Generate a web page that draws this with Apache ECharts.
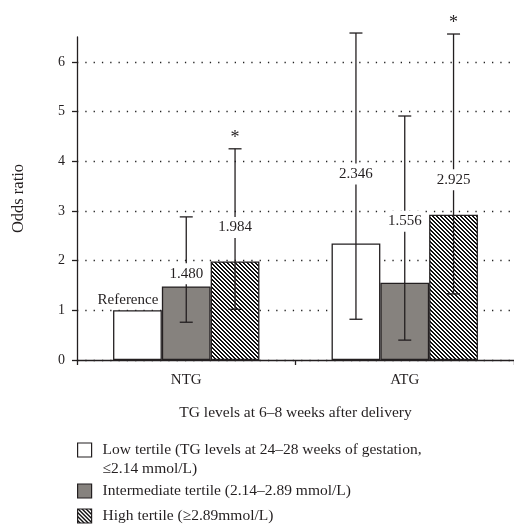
<!DOCTYPE html>
<html><head><meta charset="utf-8">
<script src="https://cdn.jsdelivr.net/npm/echarts@6/dist/echarts.min.js"></script>
<style>html,body{margin:0;padding:0;background:#fff}#c{width:514px;height:525px}</style>
</head><body><div id="c"></div>
<script>
// ---- data ----
const categories = ['NTG', 'ATG'];
const seriesNames = [
  'Low tertile (TG levels at 24–28 weeks of gestation, ≤2.14 mmol/L)',
  'Intermediate tertile (2.14–2.89 mmol/L)',
  'High tertile (≥2.89mmol/L)'
];
const lowValues = [1.000, 2.346];
const midValues = [1.480, 1.556];
const highValues = [1.984, 2.925];
const lowCILower = [null, 0.82];
const lowCIUpper = [null, 6.58];
const midCILower = [0.76, 0.40];
const midCIUpper = [2.88, 4.91];
const highCILower = [1.02, 1.33];
const highCIUpper = [4.25, 6.56];
const lowLabels = ['Reference', '2.346'];
const midLabels = ['1.480', '1.556'];
const highLabels = ['1.984', '2.925'];
const lowSignificant = [false, false];
const midSignificant = [false, false];
const highSignificant = [true, true];
const yTickValues = [0, 1, 2, 3, 4, 5, 6];
const xAxisTitle = 'TG levels at 6–8 weeks after delivery';
const yAxisTitle = 'Odds ratio';

// ---- style / layout ----
const FONT = '"Liberation Serif", "Times New Roman", serif';
const TXT = '#231f20';
const GRAY = '#86827e';
const CAT_GAP = 0.33;
const labelLift = [[10, 69.5], [12.7, 61.5], [34, 35]]; // px above bar top
const refShiftX = -9.5;

const hatchCanvas = document.createElement('canvas');
hatchCanvas.width = 4; hatchCanvas.height = 4;
(function () {
  const ctx = hatchCanvas.getContext('2d');
  ctx.fillStyle = '#fff'; ctx.fillRect(0, 0, 4, 4);
  ctx.fillStyle = '#111';
  for (let i = 0; i < 4; i++) { ctx.fillRect(i, i, 1, 1); ctx.fillRect((i + 1) % 4, i, 1, 1); }
})();
const hatch = { image: hatchCanvas, repeat: 'repeat' };

const values = [lowValues, midValues, highValues];
const ciLower = [lowCILower, midCILower, highCILower];
const ciUpper = [lowCIUpper, midCIUpper, highCIUpper];
const labels = [lowLabels, midLabels, highLabels];
const signif = [lowSignificant, midSignificant, highSignificant];
const fills = ['#ffffff', GRAY, hatch];

const errData = [];
for (let ci = 0; ci < categories.length; ci++) {
  for (let si = 0; si < 3; si++) errData.push([ci, values[si][ci], si]);
}

const chart = echarts.init(document.getElementById('c'), null, { renderer: 'canvas' });

const barSeries = seriesNames.map((name, si) => ({
  name, type: 'bar', data: values[si],
  barGap: '0%', barCategoryGap: (CAT_GAP * 100) + '%',
  itemStyle: { color: fills[si], borderColor: TXT, borderWidth: 1.3 },
  emphasis: { disabled: true }
}));

const legendText = { fontFamily: FONT, fontSize: 15.5, color: TXT, lineHeight: 19, padding: [0, 0, 0, 6] };

chart.setOption({
  animation: false,
  textStyle: { fontFamily: FONT, color: TXT },
  grid: { left: 77, right: -9, top: 37, bottom: 165, containLabel: false },
  legend: [
    {
      data: [seriesNames[0]], orient: 'vertical', left: 77, top: 421.5, padding: 0,
      itemWidth: 14, itemHeight: 14, icon: 'rect', selectedMode: false,
      itemStyle: { borderColor: TXT, borderWidth: 1.2 },
      formatter: n => '\n' + n.replace(', ≤', ',\n≤'),
      textStyle: legendText
    },
    {
      data: [seriesNames[1], seriesNames[2]], orient: 'vertical', left: 77, top: 481.5, height: 60, padding: 0,
      itemWidth: 14, itemHeight: 14, itemGap: 6, icon: 'rect', selectedMode: false,
      itemStyle: { borderColor: TXT, borderWidth: 1.2 },
      textStyle: legendText
    }
  ],
  xAxis: {
    type: 'category', data: categories,
    name: xAxisTitle, nameLocation: 'middle', nameGap: 45,
    nameTextStyle: { fontFamily: FONT, fontSize: 15.5, color: TXT },
    axisLine: { lineStyle: { color: TXT, width: 1.3 } },
    axisTick: { show: true, length: 5, lineStyle: { color: TXT, width: 1.3 } },
    axisLabel: { fontFamily: FONT, fontSize: 15, color: TXT, margin: 13 },
    splitLine: { show: false }
  },
  yAxis: {
    type: 'value', min: 0, max: 6.5,
    name: yAxisTitle, nameLocation: 'middle', nameGap: 50,
    nameTextStyle: { fontFamily: FONT, fontSize: 16.5, color: TXT },
    axisLine: { show: true, lineStyle: { color: TXT, width: 1.3 } },
    axisTick: { show: true, length: 5, customValues: yTickValues, lineStyle: { color: TXT, width: 1.3 } },
    axisLabel: { fontFamily: FONT, fontSize: 14, color: TXT, margin: 12, customValues: yTickValues },
    splitLine: { show: true, lineStyle: { color: '#222', width: 1.3, type: [1.3, 7] } }
  },
  series: barSeries.concat([{
    type: 'custom', name: 'ci', data: errData, clip: false, z: 5,
    encode: { x: 0, y: 1 }, silent: true,
    renderItem(params, api) {
      const ci = api.value(0), v = api.value(1), si = api.value(2);
      const top = api.coord([ci, v]);
      const bandW = api.size([1, 0])[0];
      const barW = bandW * (1 - CAT_GAP) / 3;
      const x = top[0] + (si - 1) * barW;
      const children = [];
      const lo = ciLower[si][ci], hi = ciUpper[si][ci];
      const ls = { stroke: TXT, lineWidth: 1.3 };
      const hasCI = lo != null && hi != null;
      let yh = null;
      if (hasCI) {
        const yl = api.coord([ci, lo])[1];
        yh = api.coord([ci, hi])[1];
        children.push({ type: 'line', shape: { x1: x, y1: yl, x2: x, y2: yh }, style: ls, z2: 1 });
        children.push({ type: 'line', shape: { x1: x - 6.5, y1: yl, x2: x + 6.5, y2: yl }, style: ls, z2: 1 });
        children.push({ type: 'line', shape: { x1: x - 6.5, y1: yh, x2: x + 6.5, y2: yh }, style: ls, z2: 1 });
      }
      const lbl = labels[si][ci];
      if (lbl) {
        const st = {
          text: lbl, fill: TXT, font: '15px ' + FONT,
          align: 'center', verticalAlign: 'middle'
        };
        if (hasCI) { st.backgroundColor = '#fff'; st.padding = [3, 2]; }
        children.push({
          type: 'text', x: x + (hasCI ? 0 : refShiftX), y: top[1] - labelLift[si][ci],
          style: st, z2: 3
        });
      }
      if (signif[si][ci] && yh != null) {
        children.push({
          type: 'text', x: x, y: yh - 11,
          style: { text: '*', fill: TXT, font: '18px ' + FONT, align: 'center', verticalAlign: 'middle' },
          z2: 3
        });
      }
      return { type: 'group', children };
    }
  }])
});
</script>
</body></html>
